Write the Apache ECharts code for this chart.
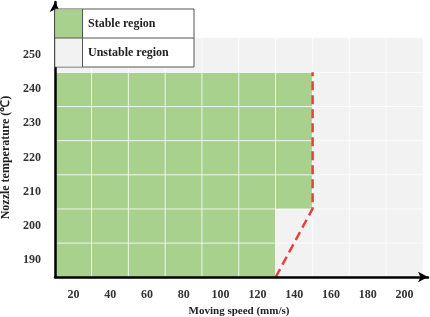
<!DOCTYPE html>
<html>
<head>
<meta charset="utf-8">
<script src="https://cdn.jsdelivr.net/npm/echarts@6/dist/echarts.min.js"></script>
<style>
    html, body { margin: 0; padding: 0; background: #fff; }
    #chart { width: 430px; height: 317px; }
</style>
</head>
<body>
<div id="chart"></div>
<script>
var speeds = ['20', '40', '60', '80', '100', '120', '140', '160', '180', '200'];
var temps = ['190', '200', '210', '220', '230', '240', '250'];
// 1 = stable, 0 = unstable (rows bottom to top: 190 ... 250)
var stable = [
    [1, 1, 1, 1, 1, 1, 0, 0, 0, 0],
    [1, 1, 1, 1, 1, 1, 0, 0, 0, 0],
    [1, 1, 1, 1, 1, 1, 1, 0, 0, 0],
    [1, 1, 1, 1, 1, 1, 1, 0, 0, 0],
    [1, 1, 1, 1, 1, 1, 1, 0, 0, 0],
    [1, 1, 1, 1, 1, 1, 1, 0, 0, 0],
    [0, 0, 0, 0, 0, 0, 0, 0, 0, 0]
];
// red dashed boundary (mm/s, °C)
var boundarySpeed = [130, 150, 150];
var boundaryTemp = [185, 205, 245];
var legendNames = ['Stable region', 'Unstable region'];

var green = '#a9d18e';
var grey = '#f2f2f2';
var font = '"Liberation Serif", "Times New Roman", serif';

var chart = echarts.init(document.getElementById('chart'));

var cells = [];
stable.forEach(function (row, j) {
    row.forEach(function (v, i) {
        cells.push({
            value: [i, j, v],
            itemStyle: {color: v ? green : grey}
        });
    });
});

var option = {
    animation: false,
    grid: [
        {left: 55, right: 7, top: 38, bottom: 40, outerBoundsMode: 'none'},
        {left: 55, right: 2, top: 2, bottom: 40, outerBoundsMode: 'none'}
    ],
    xAxis: [
        {
            type: 'category',
            gridIndex: 0,
            data: speeds,
            name: 'Moving speed (mm/s)',
            nameLocation: 'middle',
            nameGap: 28,
            nameTextStyle: {fontFamily: font, fontWeight: 'bold', fontSize: 11, color: '#222'},
            axisLine: {show: false},
            axisTick: {show: false},
            axisLabel: {fontFamily: font, fontWeight: 'bold', fontSize: 12, color: '#333', margin: 12},
            splitLine: {show: false}
        },
        {
            type: 'value', gridIndex: 0, min: 10, max: 210, show: false
        },
        {
            type: 'value', gridIndex: 1, min: 0, max: 1,
            z: 10,
            axisLine: {
                show: true,
                lineStyle: {color: '#000', width: 2.5},
                symbol: ['none', 'arrow'],
                symbolSize: [8, 10]
            },
            axisTick: {show: false},
            axisLabel: {show: false},
            splitLine: {show: false}
        }
    ],
    yAxis: [
        {
            type: 'category',
            gridIndex: 0,
            data: temps,
            name: 'Nozzle temperature (\u2103)',
            nameLocation: 'middle',
            nameGap: 41,
            nameTextStyle: {fontFamily: font, fontWeight: 'bold', fontSize: 12, color: '#222'},
            axisLine: {show: false},
            axisTick: {show: false},
            axisLabel: {fontFamily: font, fontWeight: 'bold', fontSize: 12, color: '#333', margin: 14},
            splitLine: {show: false}
        },
        {
            type: 'value', gridIndex: 0, min: 185, max: 255, show: false
        },
        {
            type: 'value', gridIndex: 1, min: 0, max: 1,
            z: 10,
            axisLine: {
                show: true,
                lineStyle: {color: '#000', width: 2.5},
                symbol: ['none', 'arrow'],
                symbolSize: [8, 10]
            },
            axisTick: {show: false},
            axisLabel: {show: false},
            splitLine: {show: false}
        }
    ],
    series: [
        {
            type: 'heatmap',
            xAxisIndex: 0,
            yAxisIndex: 0,
            data: cells,
            itemStyle: {borderColor: 'rgba(255,255,255,0.75)', borderWidth: 1},
            emphasis: {disabled: true}
        },
        {
            type: 'line',
            xAxisIndex: 1,
            yAxisIndex: 1,
            z: 5,
            showSymbol: false,
            data: boundarySpeed.map(function (s, k) { return [s, boundaryTemp[k]]; }),
            lineStyle: {color: '#e8413c', width: 2.5, type: [9, 5]}
        }
    ],
    graphic: [
        {type: 'rect', z: 100, shape: {x: 55, y: 9, width: 139, height: 58}, style: {fill: '#fff', stroke: '#555', lineWidth: 1}},
        {type: 'rect', z: 101, shape: {x: 55.5, y: 9.5, width: 27, height: 28.5}, style: {fill: green}},
        {type: 'rect', z: 101, shape: {x: 55.5, y: 38, width: 27, height: 28.5}, style: {fill: grey}},
        {type: 'line', z: 102, shape: {x1: 55, y1: 38, x2: 194, y2: 38}, style: {stroke: '#555', lineWidth: 1}},
        {type: 'line', z: 102, shape: {x1: 82.5, y1: 9, x2: 82.5, y2: 67}, style: {stroke: '#555', lineWidth: 1}},
        {type: 'text', z: 102, x: 88, y: 24, style: {text: legendNames[0], font: 'bold 12px ' + font, fill: '#222', verticalAlign: 'middle'}},
        {type: 'text', z: 102, x: 88, y: 53, style: {text: legendNames[1], font: 'bold 12px ' + font, fill: '#222', verticalAlign: 'middle'}}
    ]
};

chart.setOption(option);
</script>
</body>
</html>
